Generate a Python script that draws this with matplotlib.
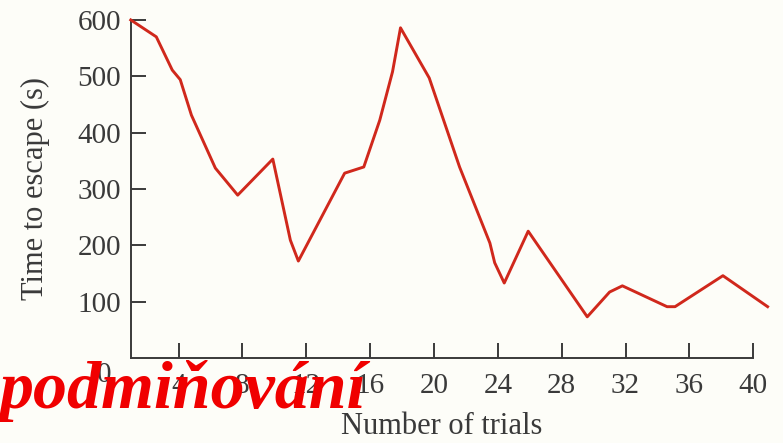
import matplotlib
matplotlib.use('Agg')
import matplotlib.pyplot as plt

# escape times per trial
trials = [1, 2.6, 3.6, 4.1, 4.8, 6.3, 7.7, 9.9, 11.0, 11.5, 14.4, 15.6, 16.6, 17.4, 17.9,
          19.7, 21.6, 23.5, 23.8, 24.4, 25.9, 29.6, 31.0, 31.8, 34.6, 35.1, 38.1, 40.9]
times = [600, 570, 511, 494, 431, 337, 289, 353, 209, 172, 328, 339, 422, 508, 586,
         497, 339, 204, 169, 133, 225, 73, 117, 128, 91, 91, 146, 91]

x_ticks = [4, 8, 12, 16, 20, 24, 28, 32, 36, 40]
y_ticks = [100, 200, 300, 400, 500, 600]

bg = '#fdfdf8'
grey = '#3a3a3a'
plt.rcParams['font.family'] = ['Liberation Serif', 'DejaVu Serif']

fig = plt.figure(figsize=(7.83, 4.43), dpi=100, facecolor=bg)
ax = fig.add_axes([0.167, 0.192, 0.795, 0.763], facecolor=bg)

ax.plot(trials, times, color='#d0281c', lw=2.1, clip_on=False, zorder=3)

ax.set_xlim(1, 40)
ax.set_ylim(0, 600)
ax.set_xticks(x_ticks)
ax.set_yticks(y_ticks)
for side in ['top', 'right']:
    ax.spines[side].set_visible(False)
for side in ['left', 'bottom']:
    ax.spines[side].set_color(grey)
    ax.spines[side].set_linewidth(1.4)
ax.tick_params(direction='in', length=11, width=1.4, color=grey, labelcolor=grey, labelsize=21)
ax.tick_params(axis='x', pad=11)
ax.tick_params(axis='y', pad=7)
# origin label sits below-left of the corner
ax.annotate('0', xy=(0, 0), xycoords='axes fraction', xytext=(-19, -12),
            textcoords='offset points', ha='center', va='center', fontsize=21, color=grey)

ax.set_xlabel('Number of trials', fontsize=22, color=grey, labelpad=9.5)
ax.set_ylabel('Time to escape (s)', fontsize=22, color=grey, labelpad=20)

fig.text(0.0, 1 - 408 / 443, 'podmiňování', fontsize=49, fontweight='bold', style='italic',
         color='#f00000', ha='left', va='baseline', family=['Liberation Serif', 'DejaVu Serif'])

fig.savefig('out.png', dpi=100, facecolor=bg)
